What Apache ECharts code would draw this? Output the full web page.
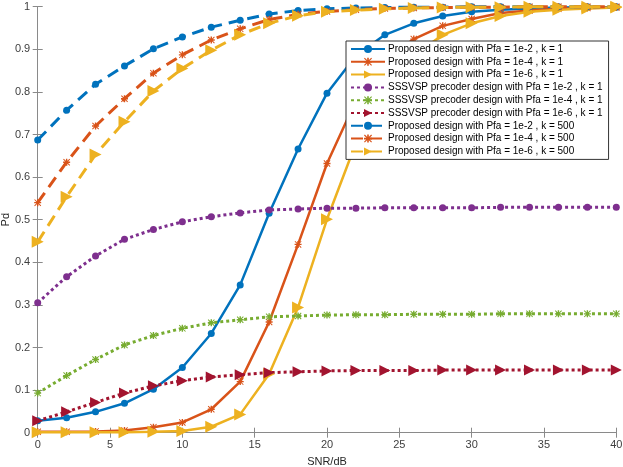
<!DOCTYPE html>
<html>
<head>
<meta charset="utf-8">
<script src="https://cdn.jsdelivr.net/npm/echarts@6/dist/echarts.min.js"></script>
<style>
  html, body { margin: 0; padding: 0; background: #fff; }
  #chart { width: 623px; height: 467px; }
</style>
</head>
<body>
<div id="chart"></div>
<script>
// SNR points (dB)
const snr = [0, 2, 4, 6, 8, 10, 12, 14, 16, 18, 20, 22, 24, 26, 28, 30, 32, 34, 36, 38, 40];

// Proposed design, k = 1
const propPfa2 = [0.028, 0.035, 0.049, 0.069, 0.102, 0.153, 0.233, 0.347, 0.515, 0.666, 0.797, 0.885, 0.934, 0.961, 0.978, 0.988, 0.993, 0.996, 0.998, 0.999, 0.999];
const propPfa4 = [0.002, 0.002, 0.003, 0.005, 0.013, 0.024, 0.055, 0.12, 0.26, 0.442, 0.632, 0.78, 0.875, 0.924, 0.955, 0.971, 0.985, 0.991, 0.995, 0.997, 0.998];
const propPfa6 = [0.001, 0.001, 0.001, 0.001, 0.002, 0.004, 0.014, 0.043, 0.138, 0.294, 0.501, 0.68, 0.81, 0.885, 0.934, 0.961, 0.978, 0.988, 0.993, 0.996, 0.998];

// SSSVSP precoder, k = 1
const sssPfa2 = [0.305, 0.366, 0.415, 0.454, 0.477, 0.495, 0.507, 0.516, 0.523, 0.525, 0.527, 0.527, 0.528, 0.528, 0.528, 0.528, 0.529, 0.529, 0.529, 0.529, 0.529];
const sssPfa4 = [0.093, 0.134, 0.172, 0.206, 0.228, 0.245, 0.258, 0.265, 0.272, 0.274, 0.276, 0.277, 0.277, 0.278, 0.278, 0.278, 0.279, 0.279, 0.279, 0.279, 0.279];
const sssPfa6 = [0.028, 0.049, 0.071, 0.093, 0.110, 0.122, 0.131, 0.136, 0.141, 0.143, 0.145, 0.146, 0.146, 0.146, 0.147, 0.147, 0.147, 0.147, 0.147, 0.147, 0.147];

// Proposed design, k = 500
const k500Pfa2 = [0.687, 0.757, 0.818, 0.861, 0.901, 0.929, 0.952, 0.968, 0.983, 0.991, 0.995, 0.997, 0.998, 0.999, 0.999, 1, 1, 1, 1, 1, 1];
const k500Pfa4 = [0.540, 0.635, 0.720, 0.784, 0.844, 0.887, 0.922, 0.948, 0.970, 0.982, 0.989, 0.993, 0.996, 0.997, 0.998, 0.999, 0.999, 1, 1, 1, 1];
const k500Pfa6 = [0.448, 0.554, 0.653, 0.730, 0.802, 0.855, 0.898, 0.934, 0.961, 0.979, 0.988, 0.992, 0.995, 0.997, 0.998, 0.999, 0.999, 1, 1, 1, 1];

const xTicks = { min: 0, max: 40, interval: 5 };
const yTicks = { min: 0, max: 1, interval: 0.1 };

const C_BLUE = '#0072BD', C_ORANGE = '#D95319', C_YELLOW = '#EDB120';
const C_PURPLE = '#7E2F8E', C_GREEN = '#77AC30', C_RED = '#A2142F';

const STAR = 'path://M4,0H6V10H4Z M0,4H10V6H0Z M1,0L10,9L9,10L0,1Z M9,0L10,1L1,10L0,9Z';
const DASH = [12, 7];
const DOT = [3, 3];

const pairs = (ys) => snr.map((x, i) => [x, ys[i]]);

const mk = (name, ys, color, lineType, width, symbol, size, rotate) => ({
  name: name,
  type: 'line',
  data: pairs(ys),
  symbol: symbol,
  symbolSize: size,
  symbolRotate: rotate || 0,
  showAllSymbol: true,
  clip: false,
  lineStyle: { color: color, width: width, type: lineType },
  itemStyle: { color: color },
  emphasis: { disabled: true },
  animation: false
});

const series = [
  mk('Proposed design with Pfa = 1e-2 , k = 1', propPfa2, C_BLUE, 'solid', 2.5, 'circle', 7),
  mk('Proposed design with Pfa = 1e-4 , k = 1', propPfa4, C_ORANGE, 'solid', 2.5, STAR, 7),
  mk('Proposed design with Pfa = 1e-6 , k = 1', propPfa6, C_YELLOW, 'solid', 2.5, 'triangle', 12, -90),
  mk('SSSVSP precoder design with Pfa = 1e-2 , k = 1', sssPfa2, C_PURPLE, DOT, 3, 'circle', 7),
  mk('SSSVSP precoder design with Pfa = 1e-4 , k = 1', sssPfa4, C_GREEN, DOT, 3, STAR, 7),
  mk('SSSVSP precoder design with Pfa = 1e-6 , k = 1', sssPfa6, C_RED, DOT, 3, 'triangle', 11, -90),
  mk('Proposed design with Pfa = 1e-2 , k = 500', k500Pfa2, C_BLUE, DASH, 3, 'circle', 7),
  mk('Proposed design with Pfa = 1e-4 , k = 500', k500Pfa4, C_ORANGE, DASH, 3, STAR, 7),
  mk('Proposed design with Pfa = 1e-6 , k = 500', k500Pfa6, C_YELLOW, DASH, 3, 'triangle', 12, -90)
];

const FONT = 'Liberation Sans, Arial, Helvetica, sans-serif';
const axisCol = '#8a8a8a';

const chart = echarts.init(document.getElementById('chart'), null, { renderer: 'canvas' });
chart.setOption({
  animation: false,
  textStyle: { fontFamily: FONT },
  grid: { left: 37.7, right: 6.7, top: 6.7, bottom: 34.3, containLabel: false, outerBoundsMode: 'none' },
  legend: {
    orient: 'vertical',
    left: 346,
    top: 41,
    width: 264,
    padding: [3, 6, 3, 4],
    itemWidth: 34,
    itemHeight: 10,
    itemGap: 2.8,
    backgroundColor: '#fff',
    borderColor: '#333',
    borderWidth: 1,
    textStyle: { fontFamily: FONT, fontSize: 10, lineHeight: 10, color: '#000', padding: [0, 0, 0, -2] },
    data: series.map(s => s.name)
  },
  xAxis: [{
    type: 'value',
    min: xTicks.min, max: xTicks.max, interval: xTicks.interval,
    name: 'SNR/dB', nameLocation: 'middle', nameGap: 24,
    nameTextStyle: { fontFamily: FONT, fontSize: 11, color: '#262626' },
    axisLine: { show: true, lineStyle: { color: axisCol, width: 1 } },
    axisTick: { show: true, inside: true, length: 5, lineStyle: { color: axisCol } },
    axisLabel: { fontFamily: FONT, fontSize: 11, color: '#404040', margin: 6.5 },
    splitLine: { show: false }
  }, {
    type: 'value', position: 'top',
    min: xTicks.min, max: xTicks.max, interval: xTicks.interval,
    axisLine: { show: true, lineStyle: { color: axisCol, width: 1 } },
    axisTick: { show: true, inside: true, length: 5, lineStyle: { color: axisCol } },
    axisLabel: { show: false },
    splitLine: { show: false }
  }],
  yAxis: [{
    type: 'value',
    min: yTicks.min, max: yTicks.max, interval: yTicks.interval,
    name: 'Pd', nameLocation: 'middle', nameGap: 26, nameMoveOverlap: false,
    nameTextStyle: { fontFamily: FONT, fontSize: 11, color: '#262626' },
    axisLine: { show: true, lineStyle: { color: axisCol, width: 1 } },
    axisTick: { show: true, inside: true, length: 5, lineStyle: { color: axisCol } },
    axisLabel: { fontFamily: FONT, fontSize: 11, color: '#404040', margin: 7.5 },
    splitLine: { show: false }
  }, {
    type: 'value', position: 'right',
    min: yTicks.min, max: yTicks.max, interval: yTicks.interval,
    axisLine: { show: true, lineStyle: { color: axisCol, width: 1 } },
    axisTick: { show: true, inside: true, length: 5, lineStyle: { color: axisCol } },
    axisLabel: { show: false },
    splitLine: { show: false }
  }],
  series: series
});
</script>
</body>
</html>
